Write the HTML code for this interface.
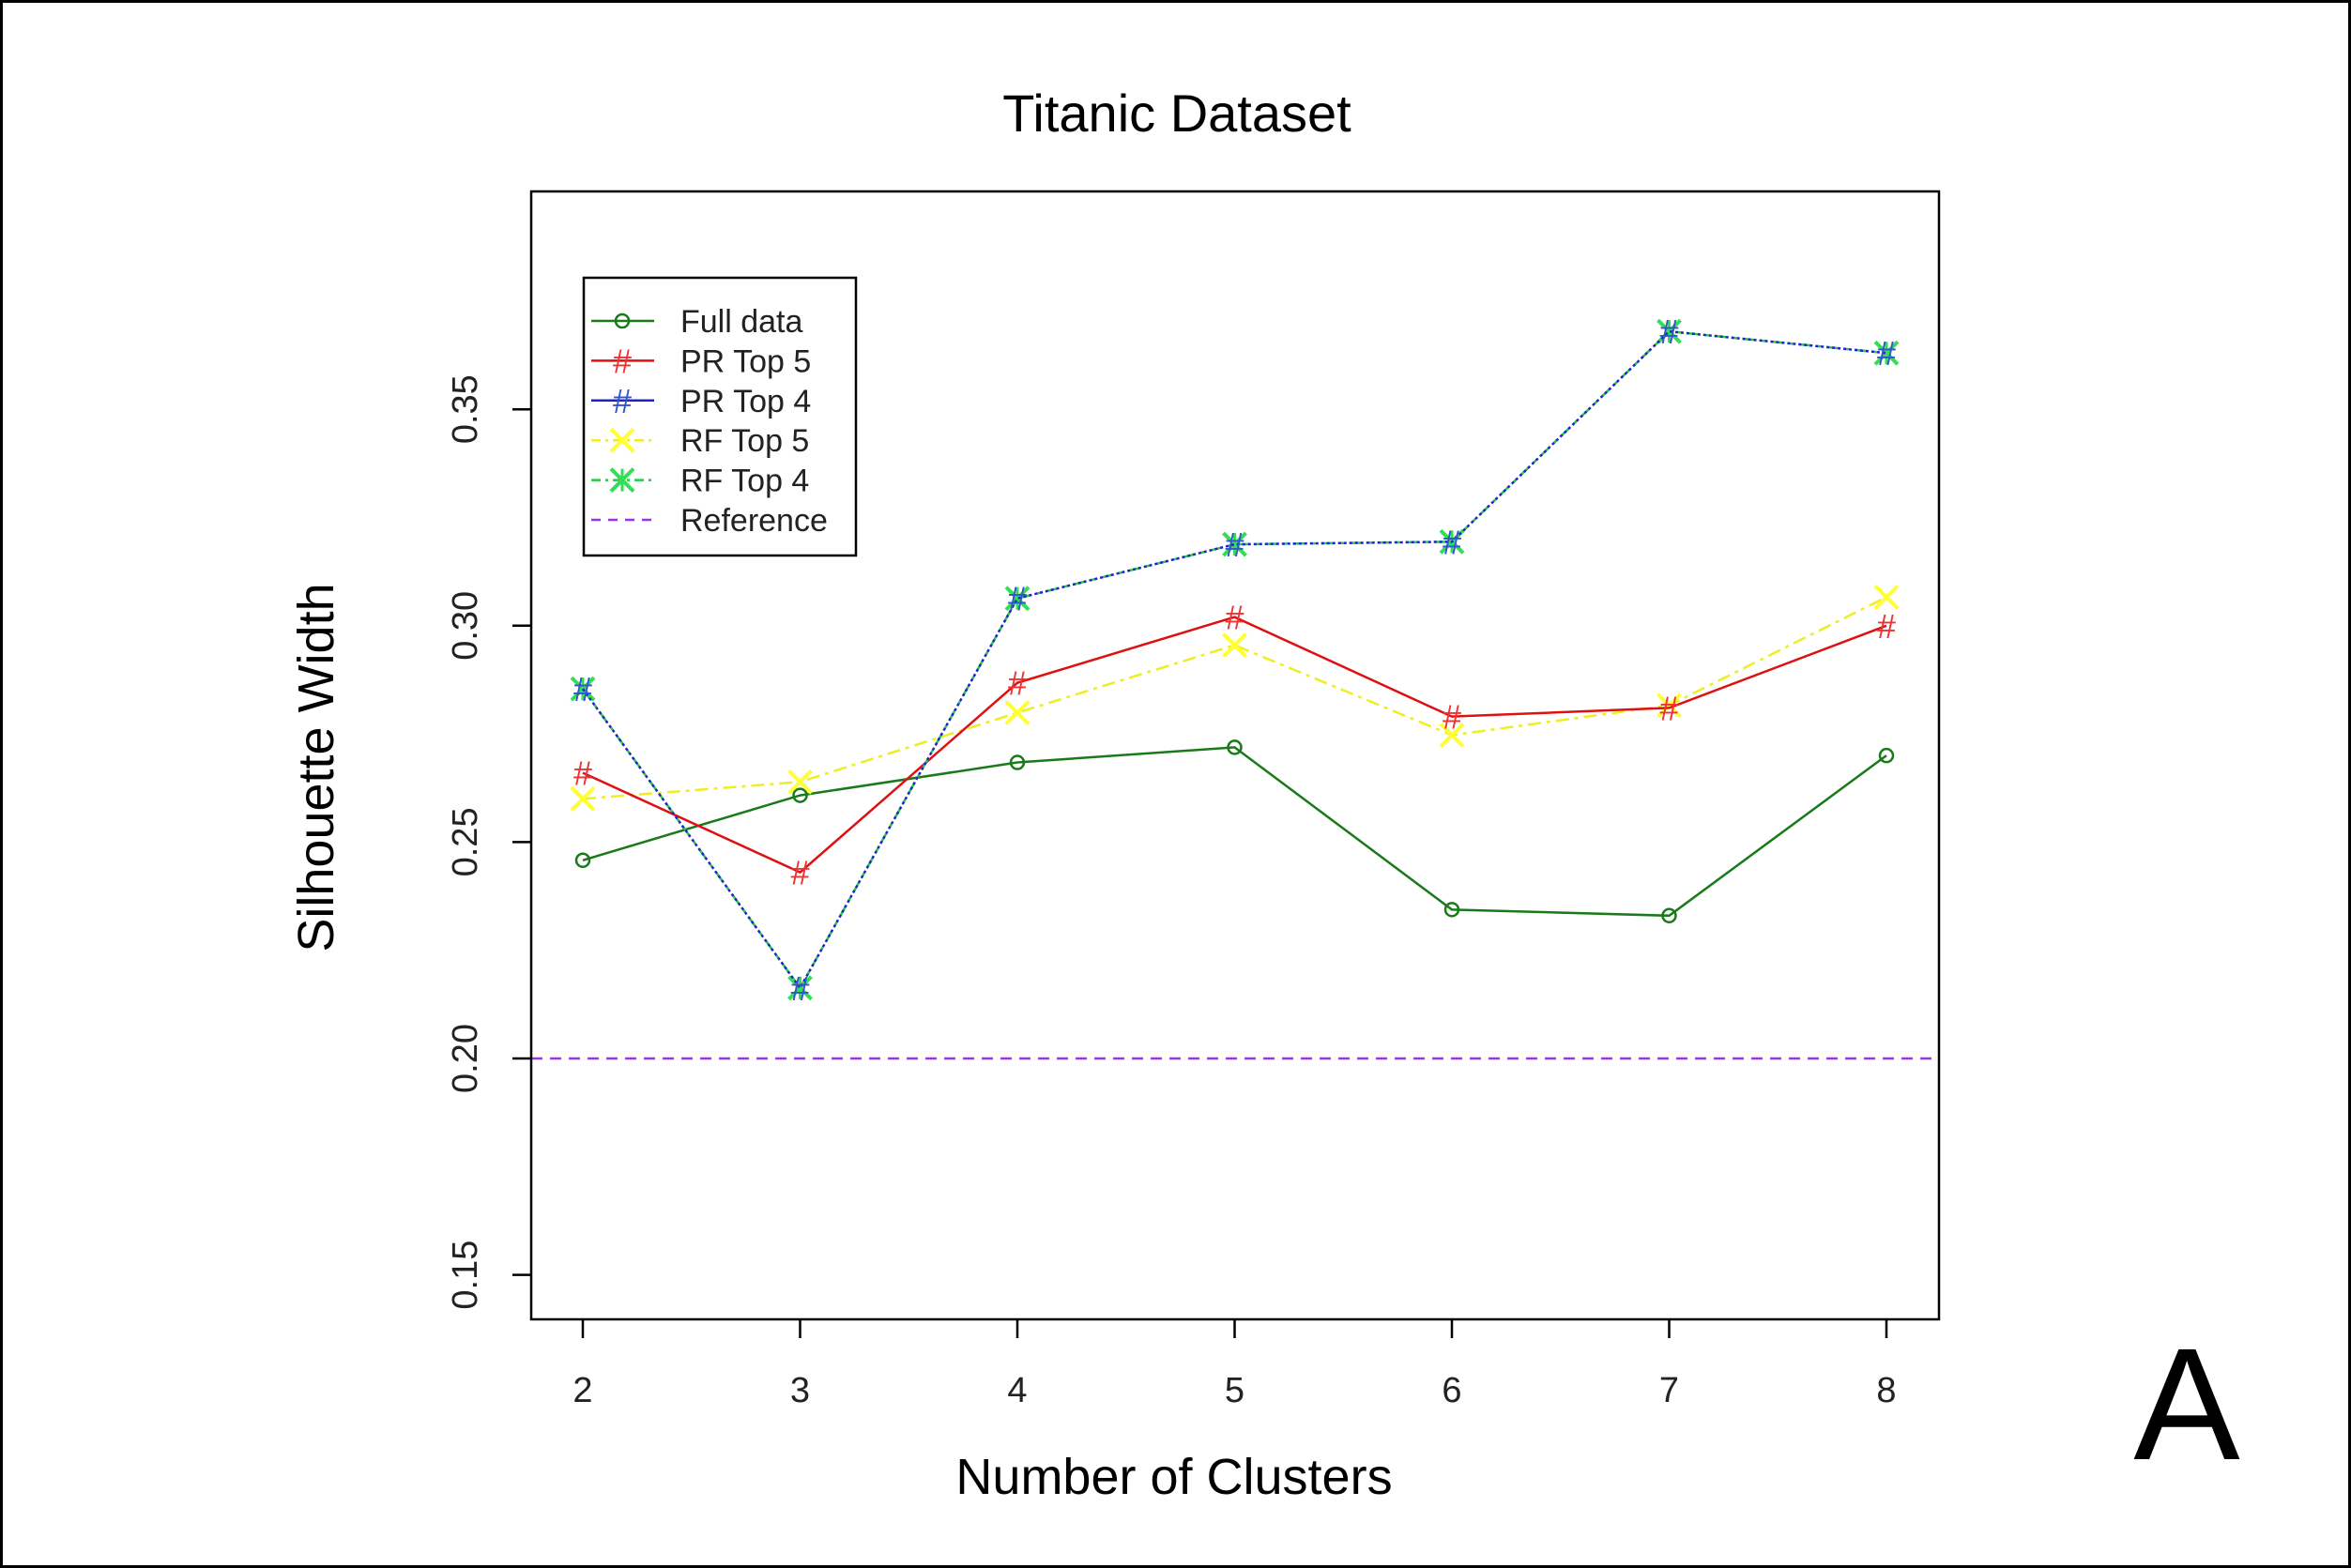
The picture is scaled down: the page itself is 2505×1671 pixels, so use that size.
<!DOCTYPE html>
<html><head><meta charset="utf-8"><style>
html,body{margin:0;padding:0;background:#fff}
svg{display:block}
</style></head><body>
<svg id="chart" width="2505" height="1671" viewBox="0 0 2505 1671" xmlns="http://www.w3.org/2000/svg">
<rect x="1.5" y="1.5" width="2502" height="1668" fill="#fff" stroke="#000" stroke-width="3"/>
<text x="1254" y="140" font-family="Liberation Sans, sans-serif" font-size="56" text-anchor="middle">Titanic Dataset</text>
<text x="1251" y="1592" font-family="Liberation Sans, sans-serif" font-size="54" text-anchor="middle">Number of Clusters</text>
<text transform="translate(355,818) rotate(-90)" font-family="Liberation Sans, sans-serif" font-size="54" text-anchor="middle">Silhouette Width</text>
<text x="2330" y="1555" font-family="Liberation Sans, sans-serif" font-size="170" text-anchor="middle">A</text>
<g id="plot"></g>
</svg>
<script>
const categories=[2,3,4,5,6,7,8];
const fullData=[0.2458,0.2608,0.2684,0.2719,0.2344,0.2330,0.2700];
const prTop5=[0.2660,0.2430,0.2868,0.3020,0.2790,0.2810,0.3000];
const prTop4=[0.2854,0.2163,0.3063,0.3188,0.3194,0.3680,0.3630];
const rfTop5=[0.2600,0.2639,0.2799,0.2955,0.2747,0.2816,0.3066];
const rfTop4=[0.2854,0.2163,0.3063,0.3188,0.3194,0.3680,0.3630];
const referenceValue=[0.20];
const yTicks=[0.15,0.20,0.25,0.30,0.35];
const yTickLabels=["0.15","0.20","0.25","0.30","0.35"];
const xTickLabels=["2","3","4","5","6","7","8"];

const NS="http://www.w3.org/2000/svg";
const g=document.getElementById('plot');
const L=566,R=2066,T=204,B=1406;
const xs=v=>621+(v-2)*231.5;
const ys=v=>1128-(v-0.20)*4612;
function mk(tag,attrs,parent){const e=document.createElementNS(NS,tag);for(const k in attrs)e.setAttribute(k,attrs[k]);(parent||g).appendChild(e);return e;}
const F="Liberation Sans, sans-serif";

// reference line
const ref=mk('line',{x1:L,x2:R,y1:ys(referenceValue[0]),y2:ys(referenceValue[0]),stroke:'#9933ee','stroke-width':2.5,'stroke-dasharray':'12,8'});



function marker(type,x,y,color,parent){
  if(type==='o'){mk('circle',{cx:x,cy:y,r:7,fill:'none',stroke:color,'stroke-width':2.5},parent);}
  else if(type==='#'){const t=mk('text',{x:x,y:y+13,'font-family':F,'font-size':36,'text-anchor':'middle',fill:color},parent);t.textContent='#';}
  else {const s=12;mk('path',{d:`M${x-s} ${y-s}L${x+s} ${y+s}M${x-s} ${y+s}L${x+s} ${y-s}`,stroke:color,'stroke-width':4,fill:'none'},parent);
        if(type==='*')mk('path',{d:`M${x} ${y-s}L${x} ${y+s}`,stroke:color,'stroke-width':3},parent);}
}
const series=[
 {name:'full-data',vals:fullData,color:'#1a7a1a',dash:'',m:'o',mc:'#1a7a1a'},
 {name:'rf-top5',vals:rfTop5,color:'#eeee22',dash:'14,6,4,6',m:'x',mc:'#ffff33'},
 {name:'pr-top5',vals:prTop5,color:'#dd1111',dash:'',m:'#',mc:'#ee3333'},
 {name:'rf-top4',vals:rfTop4,color:'#22cc44',dash:'14,6,4,6',m:'*',mc:'#33dd55'},
 {name:'pr-top4',vals:prTop4,color:'#2222cc',dash:'3,3',m:'#',mc:'#3355cc'}
];
series.forEach(s=>{
  const grp=mk('g',{});
  
  
  const pts=s.vals.map((v,i)=>xs(categories[i])+','+ys(v)).join(' ');
  mk('polyline',{points:pts,fill:'none',stroke:s.color,'stroke-width':2.5,'stroke-dasharray':s.dash},grp);
  s.vals.forEach((v,i)=>{
    const pg=mk('g',{},grp);
    
    
    marker(s.m,xs(categories[i]),ys(v),s.mc,pg);
  });
});

// box
const box=mk('rect',{x:L,y:T,width:R-L,height:B-T,fill:'none',stroke:'#000','stroke-width':2.5});


// y ticks
yTicks.forEach((v,i)=>{
  mk('line',{x1:L-20,x2:L,y1:ys(v),y2:ys(v),stroke:'#000','stroke-width':2.5});
  const t=mk('text',{transform:`translate(508,${ys(v)}) rotate(-90)`,'font-family':F,'font-size':38,'text-anchor':'middle',fill:'#222'});
  t.textContent=yTickLabels[i];
  
  
});
categories.forEach((c,i)=>{
  mk('line',{x1:xs(c),x2:xs(c),y1:B,y2:B+20,stroke:'#000','stroke-width':2.5});
  const t=mk('text',{x:xs(c),y:1494,'font-family':F,'font-size':38,'text-anchor':'middle',fill:'#222'});
  t.textContent=xTickLabels[i];
  
  
});
// legend
const lg=mk('g',{});


mk('rect',{x:622,y:296,width:290,height:296,fill:'#fff',stroke:'#000','stroke-width':2.5},lg);
const legendItems=[
 ['Full data','#1a7a1a','','o','#1a7a1a'],
 ['PR Top 5','#dd1111','','#','#ee3333'],
 ['PR Top 4','#2222cc','','#','#3355cc'],
 ['RF Top 5','#eeee22','10,5,3,5','x','#ffff33'],
 ['RF Top 4','#22cc44','10,5,3,5','*','#33dd55'],
 ['Reference','#9933ee','10,8','','']
];
legendItems.forEach((it,i)=>{
  const y=342+i*42.4;
  const e=mk('g',{},lg);
  
  
  mk('line',{x1:630,x2:697,y1:y,y2:y,stroke:it[1],'stroke-width':2.5,'stroke-dasharray':it[2]},e);
  if(it[3])marker(it[3],663,y,it[4],e);
  const t=mk('text',{x:725,y:y+12,'font-family':F,'font-size':34,fill:'#222'},e);
  t.textContent=it[0];
});
</script>
</body></html>
